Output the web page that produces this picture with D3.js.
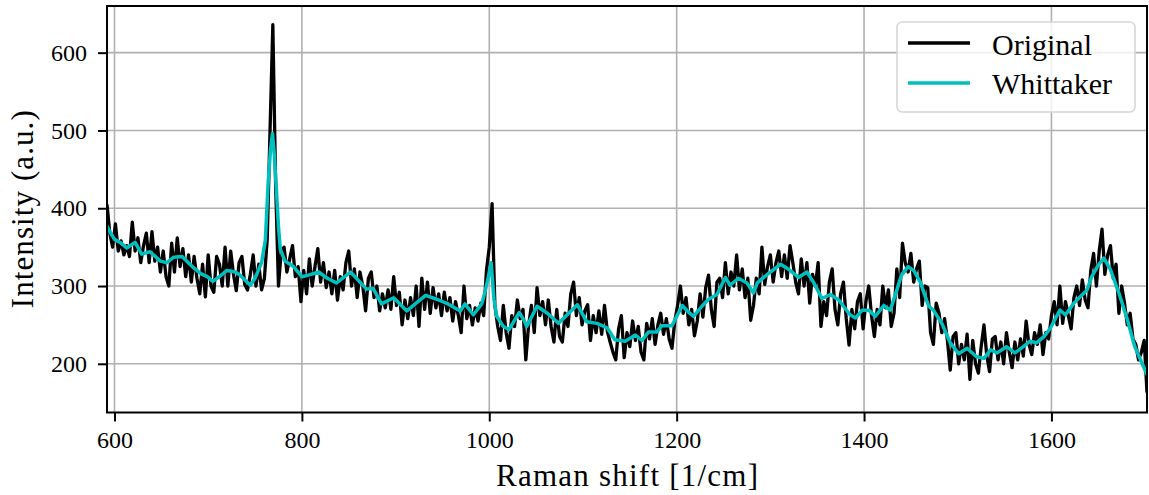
<!DOCTYPE html>
<html>
<head>
<meta charset="utf-8">
<script src="https://cdn.jsdelivr.net/npm/d3@7"></script>
<style>
  body { margin: 0; background: #fff; }
  text { font-family: "Liberation Serif", "Times New Roman", serif; fill: #000; }
</style>
</head>
<body>
<div id="chart"></div>
<script>
// tick values
const xTicks = [600, 800, 1000, 1200, 1400, 1600];
const yTicks = [200, 300, 400, 500, 600];
const seriesNames = ["Original", "Whittaker"];

// raw spectrum [shift, intensity]
const original = [
  [592,405],[595,368],[598,350],[601,380],[604,345],[607,358],[610,340],[613,352],[616,338],[619,382],
  [622,345],[625,362],[628,330],[631,352],[634,368],[637,330],[640,370],[643,332],[646,350],[649,318],
  [652,345],[655,312],[658,300],[661,355],[664,318],[667,362],[670,325],[673,348],[676,312],[679,340],
  [682,305],[685,338],[688,310],[691,290],[694,328],[697,286],[700,340],[703,300],[706,292],[709,338],
  [712,328],[715,300],[718,350],[721,300],[724,345],[727,315],[730,294],[733,330],[736,338],[739,302],
  [742,295],[745,315],[748,340],[751,300],[754,328],[757,295],[760,310],[763,360],[766,500],[769,636],
  [772,430],[775,300],[778,345],[781,350],[784,318],[787,335],[790,352],[793,312],[796,325],[799,280],
  [802,320],[805,290],[808,335],[811,300],[814,325],[817,348],[820,305],[823,330],[826,298],[829,318],
  [832,290],[835,320],[838,282],[841,312],[844,295],[847,330],[850,345],[853,300],[856,322],[859,285],
  [862,318],[865,300],[868,268],[871,310],[874,318],[877,285],[880,300],[883,268],[886,290],[889,272],
  [892,295],[895,270],[898,312],[901,275],[904,292],[907,250],[910,282],[913,258],[916,285],[919,262],
  [922,300],[925,248],[928,310],[931,270],[934,305],[937,265],[940,298],[943,272],[946,290],[949,262],
  [952,292],[955,268],[958,285],[961,255],[964,280],[967,262],[970,240],[973,300],[976,258],[979,275],
  [982,250],[985,272],[988,255],[991,278],[994,262],[997,320],[1000,350],[1003,406],[1006,275],[1009,248],
  [1012,230],[1015,275],[1018,240],[1021,220],[1024,262],[1027,248],[1030,282],[1033,258],[1036,270],[1039,205],
  [1042,250],[1045,275],[1048,240],[1051,298],[1054,262],[1057,280],[1060,250],[1063,282],[1066,248],[1069,228],
  [1072,270],[1075,235],[1078,228],[1081,265],[1084,248],[1087,290],[1090,305],[1093,262],[1096,285],[1099,250],
  [1102,268],[1105,276],[1108,230],[1111,262],[1114,240],[1117,268],[1120,238],[1123,275],[1126,242],[1129,228],
  [1132,215],[1135,205],[1138,245],[1141,262],[1144,208],[1147,240],[1150,222],[1153,255],[1156,230],[1159,248],
  [1162,215],[1165,205],[1168,252],[1171,232],[1174,258],[1177,225],[1180,250],[1183,265],[1186,238],[1189,258],
  [1192,232],[1195,220],[1198,255],[1201,275],[1204,300],[1207,265],[1210,285],[1213,250],[1216,270],[1219,236],
  [1222,255],[1225,290],[1228,260],[1231,298],[1234,314],[1237,270],[1240,248],[1243,305],[1246,310],[1249,285],
  [1252,330],[1255,290],[1258,318],[1261,300],[1264,340],[1267,295],[1270,322],[1273,285],[1276,310],[1279,256],
  [1282,275],[1285,310],[1288,290],[1291,350],[1294,302],[1297,325],[1300,340],[1303,305],[1306,330],[1309,345],
  [1312,312],[1315,340],[1318,310],[1321,352],[1324,330],[1327,305],[1330,290],[1333,335],[1336,300],[1339,330],
  [1342,278],[1345,315],[1348,300],[1351,330],[1354,248],[1357,280],[1360,262],[1363,305],[1366,322],[1369,270],
  [1372,250],[1375,290],[1378,305],[1381,258],[1384,224],[1387,270],[1390,245],[1393,280],[1396,290],[1399,245],
  [1402,280],[1405,300],[1408,262],[1411,235],[1414,270],[1417,250],[1420,300],[1423,272],[1426,295],[1429,248],
  [1432,265],[1435,322],[1438,285],[1441,355],[1444,330],[1447,318],[1450,342],[1453,305],[1456,322],[1459,332],
  [1462,275],[1465,300],[1468,298],[1471,240],[1474,225],[1477,278],[1480,265],[1483,240],[1486,258],[1489,230],
  [1492,192],[1495,235],[1498,240],[1501,200],[1504,225],[1507,205],[1510,238],[1513,180],[1516,230],[1519,200],
  [1522,188],[1525,222],[1528,250],[1531,210],[1534,190],[1537,232],[1540,235],[1543,205],[1546,228],[1549,200],
  [1552,240],[1555,215],[1558,195],[1561,228],[1564,205],[1567,232],[1570,210],[1573,255],[1576,225],[1579,212],
  [1582,240],[1585,225],[1588,250],[1591,212],[1594,240],[1597,232],[1600,262],[1603,280],[1606,250],[1609,300],
  [1612,252],[1615,280],[1618,262],[1621,245],[1624,285],[1627,300],[1630,275],[1633,308],[1636,282],[1639,272],
  [1642,320],[1645,342],[1648,300],[1651,345],[1654,373],[1657,315],[1660,340],[1663,352],[1666,310],[1669,328],
  [1672,265],[1675,300],[1678,278],[1681,250],[1684,265],[1687,232],[1690,225],[1693,205],[1696,215],[1699,230],[1702,163]
];

// smoothed spectrum [shift, intensity]
const whittaker = [
  [592,377],[594,372],[600,360],[606,356],[613,349],[622,356],[629,341],[638,344],[649,332],[656,330],
  [663,337],[672,338],[683,325],[692,316],[699,312],[705,306],[713,313],[720,320],[729,318],[734,314],
  [745,301],[750,310],[757,330],[761,359],[764,433],[766.5,475],[768.6,496],[770.5,470],[772.6,428],[775,377],
  [777,347],[782,332],[791,325],[800,312],[807,314],[818,318],[827,310],[837,304],[852,318],[862,305],
  [869,296],[876,297],[885,277],[898,285],[912,268],[921,277],[932,288],[944,283],[956,277],[969,268],
  [974,277],[983,263],[992,277],[996,295],[999,312],[1002,330],[1005,283],[1008,261],[1015,248],[1021,244],
  [1026,254],[1032,266],[1037,256],[1040,248],[1051,274],[1062,265],[1074,252],[1094,276],[1104,254],[1115,252],
  [1126,246],[1134,231],[1145,229],[1156,237],[1163,230],[1170,241],[1179,241],[1184,249],[1195,249],[1200,261],
  [1206,275],[1213,266],[1218,261],[1227,274],[1234,283],[1243,289],[1252,311],[1257,301],[1266,310],[1275,304],
  [1282,291],[1286,304],[1293,311],[1300,318],[1311,328],[1319,322],[1330,311],[1339,318],[1346,305],[1355,284],
  [1364,289],[1373,282],[1385,263],[1391,259],[1398,269],[1405,269],[1412,261],[1421,275],[1428,269],[1435,295],
  [1440,314],[1447,325],[1453,320],[1460,305],[1469,274],[1474,269],[1483,252],[1492,227],[1501,213],[1510,220],
  [1520,209],[1528,207],[1535,218],[1542,214],[1552,222],[1561,214],[1570,222],[1577,229],[1584,227],[1592,235],
  [1599,246],[1609,269],[1615,263],[1624,278],[1638,295],[1643,312],[1650,327],[1656,336],[1663,321],[1672,291],
  [1681,257],[1689,222],[1702,186]
];

const W = 1149, H = 495;
const margin = { top: 6, right: 2, bottom: 82.5, left: 107 };
const width = W - margin.left - margin.right;
const height = H - margin.top - margin.bottom;

const svg = d3.select("#chart")
  .append("svg")
  .attr("width", W)
  .attr("height", H)
  .append("g")
  .attr("transform", `translate(${margin.left},${margin.top})`);

const x = d3.scaleLinear().domain([592, 1702]).range([0, width]);
const y = d3.scaleLinear().domain([137.4, 660]).range([height, 0]);

svg.append("defs").append("clipPath").attr("id", "clip")
  .append("rect").attr("width", width).attr("height", height);

// grid
svg.append("g").selectAll("line").data(xTicks).join("line")
  .attr("x1", d => x(d)).attr("x2", d => x(d))
  .attr("y1", 0).attr("y2", height)
  .attr("stroke", "#b0b0b0").attr("stroke-width", 1.6);
svg.append("g").selectAll("line").data(yTicks).join("line")
  .attr("y1", d => y(d)).attr("y2", d => y(d))
  .attr("x1", 0).attr("x2", width)
  .attr("stroke", "#b0b0b0").attr("stroke-width", 1.6);

const line = d3.line().x(d => x(d[0])).y(d => y(d[1]));

const plot = svg.append("g").attr("clip-path", "url(#clip)");
plot.append("path")
  .datum(original)
  .attr("fill", "none")
  .attr("stroke", "#000")
  .attr("stroke-width", 3.3)
  .attr("stroke-linejoin", "round")
  .attr("d", line);
plot.append("path")
  .datum(whittaker)
  .attr("fill", "none")
  .attr("stroke", "#00bfbf")
  .attr("stroke-width", 3.5)
  .attr("stroke-linejoin", "round")
  .attr("d", line);

// axes
const xAxis = svg.append("g")
  .attr("transform", `translate(0,${height})`)
  .call(d3.axisBottom(x).tickValues(xTicks).tickSize(9).tickPadding(9.5).tickFormat(d3.format("d")));
const yAxis = svg.append("g")
  .call(d3.axisLeft(y).tickValues(yTicks).tickSize(9).tickPadding(11).tickFormat(d3.format("d")));
[xAxis, yAxis].forEach(a => {
  a.select(".domain").remove();
  a.selectAll(".tick line").attr("stroke", "#000").attr("stroke-width", 2);
  a.selectAll(".tick text").style("font-size", "24px").style("font-family", "Liberation Serif, serif");
});

// frame
svg.append("rect")
  .attr("width", width).attr("height", height)
  .attr("fill", "none").attr("stroke", "#000").attr("stroke-width", 2);

svg.append("text")
  .attr("x", width / 2)
  .attr("y", 486 - margin.top)
  .attr("text-anchor", "middle")
  .attr("textLength", 262)
  .attr("lengthAdjust", "spacing")
  .style("font-size", "31px")
  .text("Raman shift [1/cm]");

svg.append("text")
  .attr("transform", `translate(${33 - margin.left},${height / 2}) rotate(-90)`)
  .attr("text-anchor", "middle")
  .attr("textLength", 198)
  .attr("lengthAdjust", "spacing")
  .style("font-size", "31px")
  .text("Intensity (a.u.)");

// legend
const legend = svg.append("g").attr("transform", `translate(${897 - margin.left},${22 - margin.top})`);
legend.append("rect")
  .attr("width", 238).attr("height", 90).attr("rx", 5)
  .attr("fill", "#fff").attr("fill-opacity", 0.8)
  .attr("stroke", "#d6d6d6").attr("stroke-width", 1.6);
const colors = ["#000", "#00bfbf"];
seriesNames.forEach((name, i) => {
  legend.append("line")
    .attr("x1", 11).attr("x2", 73)
    .attr("y1", 21 + i * 40).attr("y2", 21 + i * 40)
    .attr("stroke", colors[i]).attr("stroke-width", 3.3);
  legend.append("text")
    .attr("x", 95).attr("y", 33 + i * 39)
    .style("font-size", "30px")
    .text(name);
});
</script>
</body>
</html>
